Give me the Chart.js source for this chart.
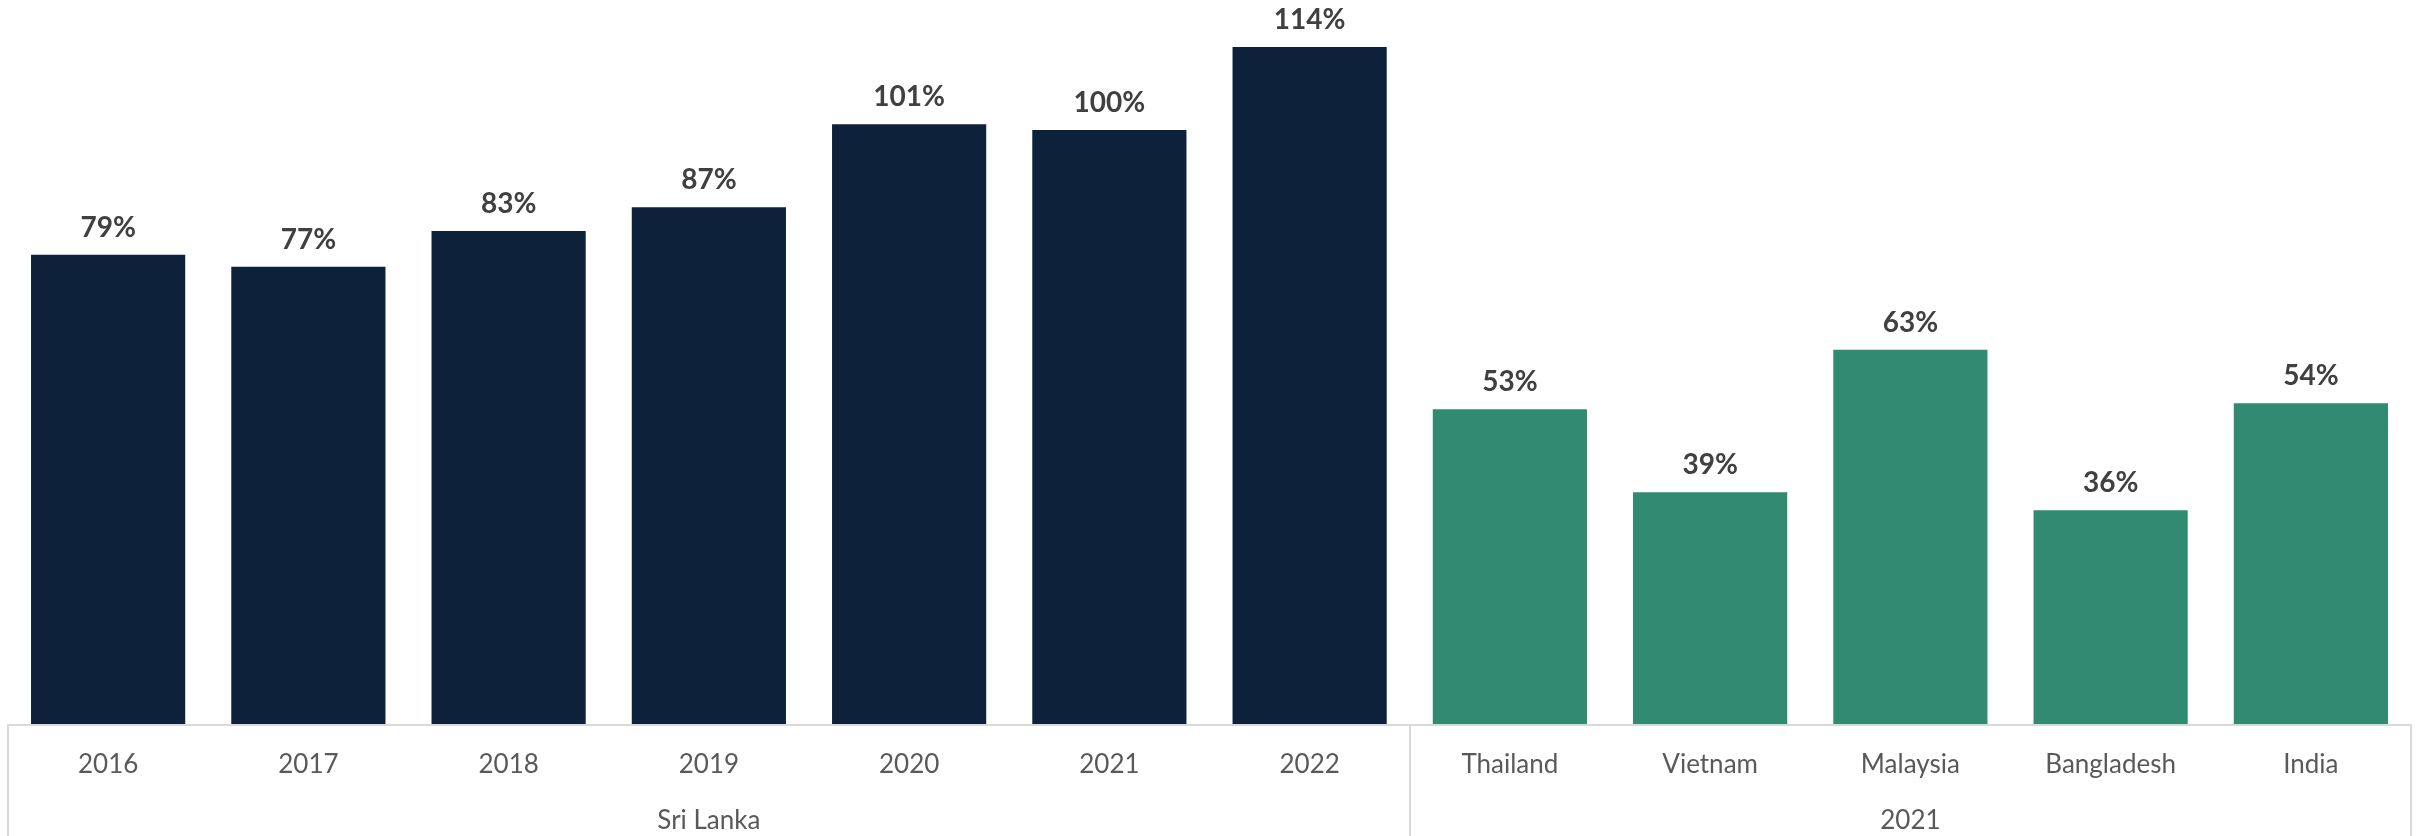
<!DOCTYPE html>
<html>
<head>
<meta charset="utf-8">
<script src="https://cdn.jsdelivr.net/npm/chart.js@4.4.1/dist/chart.umd.min.js"></script>
<style>
  html, body { margin: 0; padding: 0; background: #fff; }
  #wrap { width: 2417px; height: 836px; position: relative; }
</style>
</head>
<body>
<div id="wrap"><canvas id="chart"></canvas></div>
<script>
// categories and values
const categories = ['2016', '2017', '2018', '2019', '2020', '2021', '2022',
  'Thailand', 'Vietnam', 'Malaysia', 'Bangladesh', 'India'];
const values = [79, 77, 83, 87, 101, 100, 114, 53, 39, 63, 36, 54];
const groups = [
  { name: 'Sri Lanka', from: 0, to: 6 },
  { name: '2021', from: 7, to: 11 }
];
const colors = ['#0D223A', '#0D223A', '#0D223A', '#0D223A', '#0D223A', '#0D223A', '#0D223A',
  '#318B70', '#318B70', '#318B70', '#318B70', '#318B70'];

const FONT = 'Lato, "Open Sans", sans-serif';

// value labels above each bar
const barLabels = {
  id: 'barLabels',
  afterDatasetsDraw(chart) {
    const ctx = chart.ctx;
    const meta = chart.getDatasetMeta(0);
    ctx.save();
    ctx.font = 'bold 28px ' + FONT;
    ctx.fillStyle = '#404040';
    ctx.textAlign = 'center';
    ctx.textBaseline = 'alphabetic';
    meta.data.forEach((bar, i) => {
      ctx.fillText(values[i] + '%', bar.x, bar.y - 18);
    });
    ctx.restore();
  }
};

// category labels, group labels and separator lines under the axis
const groupAxis = {
  id: 'groupAxis',
  afterDraw(chart) {
    const ctx = chart.ctx;
    const x = chart.scales.x;
    const axisY = chart.chartArea.bottom;
    const bottom = chart.height;
    const half = (x.getPixelForValue(1) - x.getPixelForValue(0)) / 2;
    ctx.save();

    // axis line
    ctx.strokeStyle = '#D9D9D9';
    ctx.lineWidth = 2;
    ctx.beginPath();
    ctx.moveTo(x.left, axisY + 1);
    ctx.lineTo(x.right, axisY + 1);
    ctx.stroke();

    // separators
    const edges = [x.getPixelForValue(0) - half];
    groups.forEach(g => edges.push(x.getPixelForValue(g.to) + half));
    edges.forEach(px => {
      ctx.beginPath();
      ctx.moveTo(Math.round(px), axisY);
      ctx.lineTo(Math.round(px), bottom);
      ctx.stroke();
    });

    ctx.fillStyle = '#595959';
    ctx.font = '26px ' + FONT;
    ctx.textAlign = 'center';
    ctx.textBaseline = 'alphabetic';
    categories.forEach((c, i) => {
      ctx.fillText(c, x.getPixelForValue(i), axisY + 49);
    });
    groups.forEach(g => {
      const cx = (x.getPixelForValue(g.from) + x.getPixelForValue(g.to)) / 2;
      ctx.fillText(g.name, cx, axisY + 105);
    });
    ctx.restore();
  }
};

new Chart(document.getElementById('chart'), {
  type: 'bar',
  data: {
    labels: categories,
    datasets: [{
      data: values,
      backgroundColor: colors,
      borderWidth: 0,
      categoryPercentage: 0.77,
      barPercentage: 1
    }]
  },
  options: {
    responsive: true,
    maintainAspectRatio: false,
    animation: false,
    layout: { padding: { left: 8, right: 6, top: 0, bottom: 0 } },
    plugins: {
      legend: { display: false },
      tooltip: { enabled: false },
      title: { display: false }
    },
    scales: {
      x: {
        grid: { display: false, drawTicks: false },
        border: { display: false },
        ticks: { display: false },
        afterFit(scale) { scale.height = 112; }
      },
      y: {
        display: false,
        min: 0,
        max: 121.9
      }
    }
  },
  plugins: [barLabels, groupAxis]
});
</script>
</body>
</html>
